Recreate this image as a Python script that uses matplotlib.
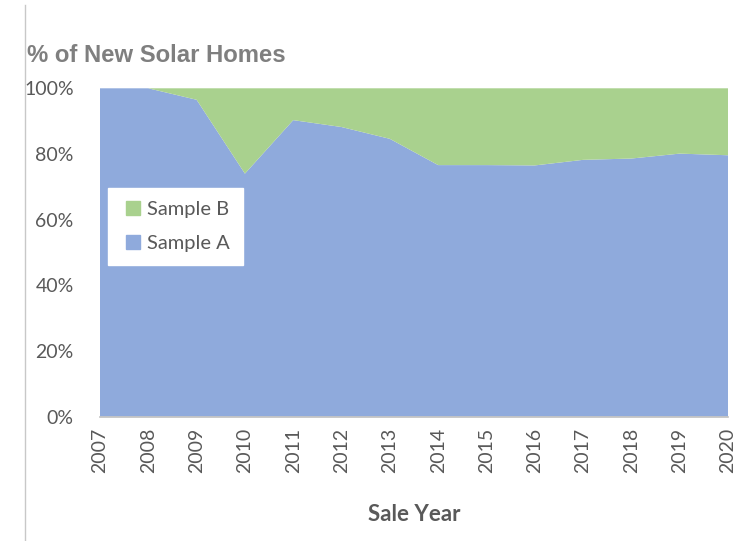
import matplotlib
matplotlib.use("Agg")
import matplotlib.pyplot as plt
from matplotlib.lines import Line2D
from matplotlib.ticker import FuncFormatter, MultipleLocator

years = [2007, 2008, 2009, 2010, 2011, 2012, 2013, 2014, 2015, 2016, 2017, 2018, 2019, 2020]
sample_a = [100.0, 100.0, 96.5, 74.0, 90.3, 88.2, 84.6, 76.6, 76.6, 76.5, 78.2, 78.6, 80.1, 79.6]
sample_b = [100 - a for a in sample_a]
series_names = ["Sample A", "Sample B"]
colors = ["#8FAADC", "#A9D18E"]

fig = plt.figure(figsize=(7.54, 5.41), dpi=100)
ax = fig.add_axes([100 / 754, 1 - 416.5 / 541, 628 / 754, 328.2 / 541])

polys = ax.stackplot(years, sample_a, sample_b, colors=colors, labels=series_names, linewidth=0)
ax.set_xlim(years[0], years[-1])
ax.set_ylim(0, 100)
ax.yaxis.set_major_locator(MultipleLocator(20))
ax.yaxis.set_major_formatter(FuncFormatter(lambda v, p: f"{int(v)}%"))
ax.set_xticks(years)
ax.set_xticklabels([str(y) for y in years], rotation=90)

for s in ["top", "right", "left"]:
    ax.spines[s].set_visible(False)
ax.spines["bottom"].set_color("#BFBFBF")
ax.spines["bottom"].set_linewidth(1.2)
ax.tick_params(axis="both", length=0, colors="#595959")
ax.tick_params(axis="y", pad=19, labelsize=14)
ax.tick_params(axis="x", pad=8, labelsize=14)
for lab in ax.get_xticklabels() + ax.get_yticklabels():
    lab.set_fontfamily("Lato")

ax.set_xlabel("Sale Year", fontsize=16, fontweight="bold", color="#595959",
              fontfamily="Lato", labelpad=22)

handles = [Line2D([], [], marker="s", linestyle="none", markersize=10,
                  markerfacecolor=colors[1], markeredgecolor=colors[1]),
           Line2D([], [], marker="s", linestyle="none", markersize=10,
                  markerfacecolor=colors[0], markeredgecolor=colors[0])]
leg = ax.legend(handles, [series_names[1], series_names[0]],
                loc="upper left", bbox_to_anchor=(8 / 628, 1 - 100 / 328.2),
                frameon=True, fancybox=False, framealpha=1, edgecolor="white",
                facecolor="white", prop={"family": "Lato", "size": 14.5},
                labelcolor="#595959", handletextpad=0.1, borderpad=0.65,
                labelspacing=0.8, handlelength=1.2, borderaxespad=0)

fig.text(27 / 754, 1 - 56 / 541, "% of New Solar Homes", fontsize=17.2, fontweight="bold",
         color="#7F7F7F", fontfamily="Liberation Sans", va="center", ha="left")

fig.add_artist(Line2D([25 / 754, 25 / 754], [1 - 5 / 541, 0], transform=fig.transFigure,
                      color="#C8C8C8", linewidth=1))

fig.savefig("out.png", dpi=100)
